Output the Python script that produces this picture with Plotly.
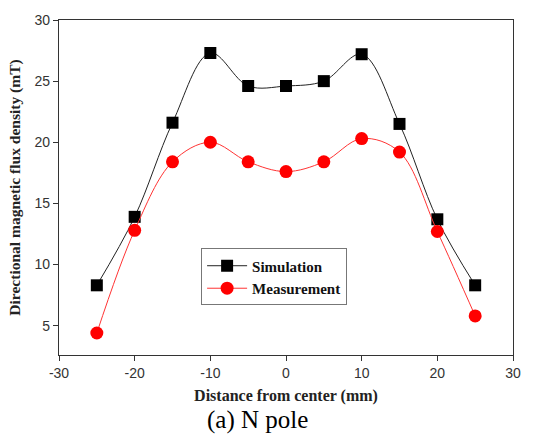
import plotly.graph_objects as go

x_vals = [-25, -20, -15, -10, -5, 0, 5, 10, 15, 20, 25]
simulation = [8.3, 13.9, 21.6, 27.3, 24.6, 24.6, 25.0, 27.2, 21.5, 13.7, 8.3]
measurement = [4.4, 12.8, 18.4, 20.0, 18.4, 17.6, 18.4, 20.3, 19.2, 12.7, 5.8]
x_ticks = [-30, -20, -10, 0, 10, 20, 30]
y_ticks = [5, 10, 15, 20, 25, 30]

SERIF = "Liberation Serif"

fig = go.Figure()
fig.add_trace(go.Scatter(
    x=x_vals, y=simulation, name="<b>Simulation</b>", mode="lines+markers",
    line=dict(color="#222222", width=1, shape="spline", smoothing=1.0),
    marker=dict(symbol="square", size=12, color="black"),
))
fig.add_trace(go.Scatter(
    x=x_vals, y=measurement, name="<b>Measurement</b>", mode="lines+markers",
    line=dict(color="#ff3333", width=1, shape="spline", smoothing=1.0),
    marker=dict(symbol="circle", size=13, color="#ff0000"),
))

axis_common = dict(
    showline=True, linecolor="#333333", linewidth=1.2, mirror=True,
    ticks="outside", ticklen=5, tickcolor="#333333",
    showgrid=False, zeroline=False,
    tickfont=dict(family="Liberation Sans", size=14, color="#333333"),
)

fig.update_layout(
    width=542, height=436,
    margin=dict(l=59, r=29, t=17, b=81),
    paper_bgcolor="white", plot_bgcolor="white",
    xaxis=dict(range=[-30, 30], tickvals=x_ticks, ticktext=[str(v) for v in x_ticks],
               title=dict(text="<b>Distance from center (mm)</b>",
                          font=dict(family=SERIF, size=16, color="#222222"),
                          standoff=9),
               **axis_common),
    yaxis=dict(range=[2.6, 30], tickvals=y_ticks, ticktext=[str(v) for v in y_ticks],
               title=dict(text="<b>Directional magnetic flux density (mT)</b>",
                          font=dict(family=SERIF, size=15.5, color="#222222"),
                          standoff=10),
               **axis_common),
    legend=dict(x=0.313, y=0.318, xanchor="left", yanchor="top",
                bgcolor="white", bordercolor="#777777", borderwidth=1,
                font=dict(family=SERIF, size=15, color="#111111"),
                itemwidth=40, tracegroupgap=0),
    showlegend=True,
    annotations=[dict(text="(a) N pole", x=0.437, y=-0.145, xref="paper", yref="paper",
                      xanchor="center", yanchor="top", showarrow=False,
                      font=dict(family=SERIF, size=25, color="black"))],
)

fig.write_html("out.html")
